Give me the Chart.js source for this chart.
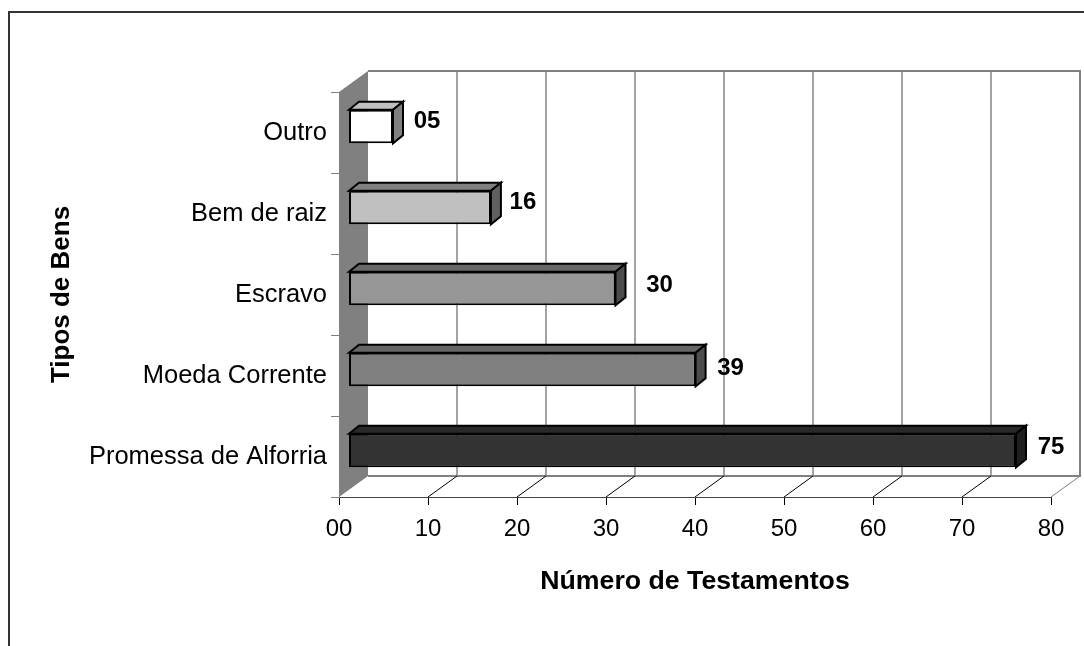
<!DOCTYPE html>
<html>
<head>
<meta charset="utf-8">
<style>html,body{margin:0;padding:0;background:#fff}canvas{display:block}</style>
<script src="https://cdn.jsdelivr.net/npm/chart.js@4/dist/chart.umd.js"></script>
</head>
<body>
<canvas id="c" width="1084" height="646"></canvas>
<script>
const categories = ["Outro", "Bem de raiz", "Escravo", "Moeda Corrente", "Promessa de Alforria"];
const testamentos = [5, 16, 30, 39, 75];
const valueLabels = ["05", "16", "30", "39", "75"];
const xTickLabels = ["00", "10", "20", "30", "40", "50", "60", "70", "80"];
const frontColors = ["#ffffff", "#c0c0c0", "#969696", "#808080", "#333333"];
const topColors = ["#c0c0c0", "#808080", "#696969", "#666666", "#292929"];
const sideColors = ["#808080", "#606060", "#4b4b4b", "#4d4d4d", "#1f1f1f"];
const labelNudgeX = [34, 32, 44, 35, 35];
const labelNudgeY = [-5, -5, -3, -1, -3];

const FONT = '"Liberation Sans", Arial, sans-serif';
const WALL = {dx: 29, dy: -21};
const BAR = {dx: 9.5, dy: -6, depthX: 10, depthY: -8};

const scene3d = {
  id: 'scene3d',
  beforeDraw(chart) {
    const ctx = chart.ctx;
    ctx.save();
    ctx.fillStyle = '#fff';
    ctx.fillRect(0, 0, chart.width, chart.height);
    ctx.strokeStyle = '#333';
    ctx.lineWidth = 2;
    ctx.beginPath();
    ctx.moveTo(9, 646);
    ctx.lineTo(9, 12);
    ctx.lineTo(1084, 12);
    ctx.stroke();
    ctx.restore();
  },
  beforeDatasetsDraw(chart) {
    const {ctx, chartArea: a, scales: {x}} = chart;
    const bx = a.left + WALL.dx, ty = a.top + WALL.dy, by = a.bottom + WALL.dy;
    ctx.save();
    ctx.fillStyle = '#808080';
    ctx.beginPath();
    ctx.moveTo(a.left, a.top);
    ctx.lineTo(bx, ty);
    ctx.lineTo(bx, by);
    ctx.lineTo(a.left, a.bottom);
    ctx.closePath();
    ctx.fill();
    ctx.strokeStyle = '#666666';
    ctx.lineWidth = 1.2;
    x.ticks.forEach(t => {
      const px = Math.round(x.getPixelForValue(t.value)) + WALL.dx;
      if (t.value === 0 || t.value === x.max) return;
      ctx.beginPath();
      ctx.moveTo(px, ty);
      ctx.lineTo(px, by);
      ctx.stroke();
    });
    ctx.strokeStyle = '#808080';
    ctx.lineWidth = 2;
    ctx.beginPath();
    ctx.moveTo(bx, ty);
    ctx.lineTo(a.right + WALL.dx, ty);
    ctx.lineTo(a.right + WALL.dx, by);
    ctx.lineTo(bx, by);
    ctx.stroke();
    ctx.lineWidth = 1;
    x.ticks.forEach(t => {
      const px = x.getPixelForValue(t.value);
      if (t.value === 0) return;
      ctx.strokeStyle = t.value === x.max ? '#808080' : '#000';
      ctx.beginPath();
      ctx.moveTo(px, a.bottom);
      ctx.lineTo(px + WALL.dx, by);
      ctx.stroke();
    });
    ctx.restore();
  },
  beforeDatasetDraw(chart) {
    const ctx = chart.ctx;
    ctx.save();
    ctx.translate(BAR.dx, BAR.dy);
    const meta = chart.getDatasetMeta(0);
    meta.data.forEach((bar, i) => {
      const L = bar.base, R = bar.x, T = bar.y - bar.height / 2, B = bar.y + bar.height / 2;
      ctx.lineWidth = 2;
      ctx.strokeStyle = '#000';
      ctx.lineJoin = 'miter';
      ctx.fillStyle = topColors[i];
      ctx.beginPath();
      ctx.moveTo(L, T);
      ctx.lineTo(L + BAR.depthX, T + BAR.depthY);
      ctx.lineTo(R + BAR.depthX, T + BAR.depthY);
      ctx.lineTo(R, T);
      ctx.closePath();
      ctx.fill();
      ctx.stroke();
      ctx.fillStyle = sideColors[i];
      ctx.beginPath();
      ctx.moveTo(R, T);
      ctx.lineTo(R + BAR.depthX, T + BAR.depthY);
      ctx.lineTo(R + BAR.depthX, B + BAR.depthY);
      ctx.lineTo(R, B);
      ctx.closePath();
      ctx.fill();
      ctx.stroke();
    });
  },
  afterDatasetDraw(chart) {
    chart.ctx.restore();
  },
  afterDatasetsDraw(chart) {
    const ctx = chart.ctx;
    const meta = chart.getDatasetMeta(0);
    ctx.save();
    ctx.fillStyle = '#000';
    ctx.font = 'bold 24px ' + FONT;
    ctx.textAlign = 'center';
    ctx.textBaseline = 'middle';
    meta.data.forEach((bar, i) => {
      ctx.fillText(valueLabels[i], bar.x + BAR.dx + labelNudgeX[i], bar.y + BAR.dy + labelNudgeY[i]);
    });
    ctx.restore();
  }
};

new Chart(document.getElementById('c'), {
  type: 'bar',
  data: {
    labels: categories,
    datasets: [{
      data: testamentos,
      backgroundColor: frontColors,
      borderColor: '#000',
      borderWidth: 2,
      borderSkipped: false,
      categoryPercentage: 1,
      barPercentage: 0.415
    }]
  },
  plugins: [scene3d],
  options: {
    indexAxis: 'y',
    responsive: false,
    animation: false,
    layout: {padding: {left: 0, top: 92, right: 33, bottom: 0}},
    plugins: {legend: {display: false}, tooltip: {enabled: false}, title: {display: false}},
    scales: {
      x: {
        type: 'linear',
        min: 0,
        max: 80,
        afterFit(s) { s.height = 149; },
        afterBuildTicks(s) { s.ticks = xTickLabels.map((_, i) => ({value: i * 10})); },
        grid: {drawOnChartArea: false, color: '#000', tickLength: 8, tickWidth: 1},
        border: {display: true, color: '#444', width: 1},
        ticks: {
          color: '#000',
          font: {family: FONT, size: 24},
          padding: 10,
          maxRotation: 0,
          autoSkip: false,
          callback(v, i) { return xTickLabels[i]; }
        },
        title: {
          display: true,
          text: 'Número de Testamentos',
          color: '#000',
          font: {family: FONT, size: 26.7, weight: 'bold'},
          padding: {top: 0, bottom: 48}
        }
      },
      y: {
        type: 'category',
        afterFit(s) { s.width = 339; },
        grid: {drawOnChartArea: false, color: '#808080', tickLength: 8, tickWidth: 1},
        border: {display: true, color: '#808080', width: 1},
        ticks: {
          color: '#000',
          font: {family: FONT, size: 25.5},
          padding: 4,
          autoSkip: false
        },
        title: {
          display: true,
          text: 'Tipos de Bens',
          color: '#000',
          font: {family: FONT, size: 26, weight: 'bold'},
          padding: {top: 46, bottom: 0}
        }
      }
    }
  }
});
</script>
</body>
</html>
